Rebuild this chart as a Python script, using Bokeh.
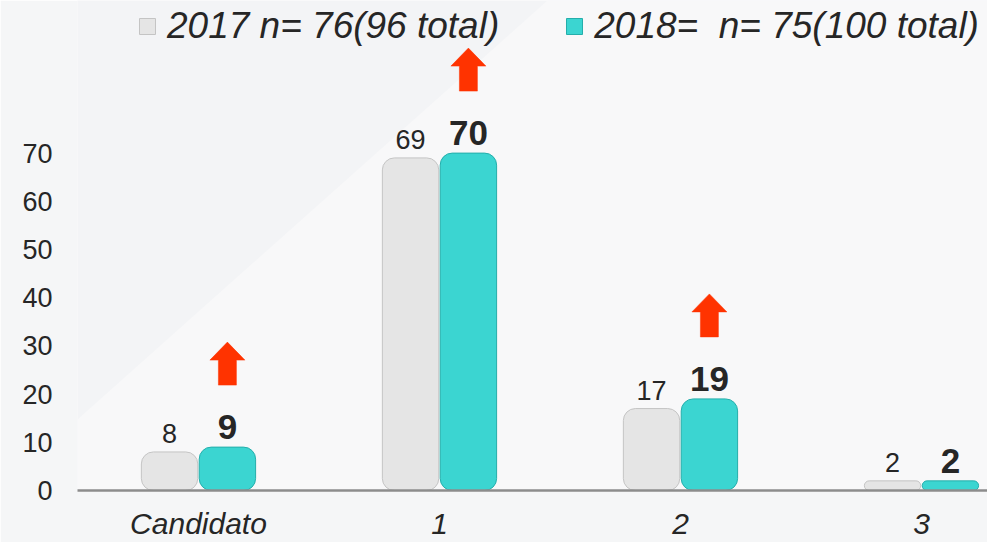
from bokeh.plotting import figure
from bokeh.models import FixedTicker, Range1d, Legend, LegendItem, ColumnDataSource
from bokeh.core.properties import value
from bokeh.embed import file_html
from bokeh.resources import INLINE

# ---- data ----
categories = ["Candidato", "1", "2", "3"]
values_2017 = [8, 69, 17, 2]
values_2018 = [9, 70, 19, 2]
label_2017 = "2017 n= 76(96 total)"
label_2018 = "2018=  n= 75(100 total)"
y_ticks = [0, 10, 20, 30, 40, 50, 60, 70]

# ---- layout constants ----
W, H = 987, 542
BORDER_L, BORDER_B = 77, 52
FRAME_W = W - BORDER_L
FRAME_H = H - BORDER_B
X_START = -0.502
X_END = X_START + FRAME_W / 241.0
Y_START, Y_END = 0, FRAME_H / 4.82
PX_X = (X_END - X_START) / FRAME_W
PX_Y = (Y_END - Y_START) / FRAME_H

FONT = "Liberation Sans"
TXT = "#262626"
C17, C17_LINE = "#e5e5e5", "#c4c4c4"
C18, C18_LINE = "#3bd5d1", "#25aeab"
ARROW = "#ff3300"
BG = "#f3f4f6"
BG_LIGHT = "#f8f8f9"
BORDER_BG = "#f5f6f7"

p = figure(width=W, height=H, output_backend="svg", toolbar_location=None,
           x_range=Range1d(X_START, X_END), y_range=Range1d(Y_START, Y_END),
           min_border_left=BORDER_L, min_border_right=0, min_border_top=0,
           min_border_bottom=BORDER_B)
p.background_fill_color = BG
p.border_fill_color = BORDER_BG
p.outline_line_color = None
p.grid.visible = False

# subtle lighter diagonal sheen of the slide background (screen px -> data)
def sx(px):
    return X_START + (px - BORDER_L) * PX_X

def sy(py):
    return (FRAME_H - py) * PX_Y

p.patch([sx(77), sx(547), sx(W), sx(W), sx(77)],
        [sy(419), sy(0), sy(0), sy(FRAME_H), sy(FRAME_H)],
        fill_color=BG_LIGHT, line_color=None, level="underlay")

idx = list(range(len(categories)))
OFF, BW = 0.12, 0.234
x17 = [i - OFF for i in idx]
x18 = [i + OFF for i in idx]

src17 = ColumnDataSource(dict(x=x17, top=values_2017))
src18 = ColumnDataSource(dict(x=x18, top=values_2018))

r17 = p.vbar(x="x", top="top", bottom=0, width=BW, source=src17, fill_color=C17,
             line_color=C17_LINE, line_width=1, border_radius=12)
r18 = p.vbar(x="x", top="top", bottom=0, width=BW, source=src18, fill_color=C18,
             line_color=C18_LINE, line_width=1, border_radius=12)

# value labels
src17l = ColumnDataSource(dict(x=x17, y=[v + 18 * PX_Y for v in values_2017],
                               lab=[str(v) for v in values_2017]))
src18l = ColumnDataSource(dict(x=x18, y=[v + 20 * PX_Y for v in values_2018],
                               lab=[str(v) for v in values_2018]))
p.text(x="x", y="y", text="lab", source=src17l, text_font=value(FONT),
       text_font_size="27px", text_color=TXT, text_align="center",
       text_baseline="alphabetic")
p.text(x="x", y="y", text="lab", source=src18l, text_font=value(FONT),
       text_font_size="35px", text_font_style="bold", text_color=TXT,
       text_align="center", text_baseline="alphabetic")

# increase arrows (where 2018 > 2017)
xs, ys = [], []
for i in idx:
    if values_2018[i] > values_2017[i]:
        cx, t = x18[i], values_2018[i]
        hw, sw = 17.5 * PX_X, 9 * PX_X
        y_tip = t + 105 * PX_Y
        y_head = t + 87 * PX_Y
        y_bot = t + 62 * PX_Y
        xs.append([cx, cx + hw, cx + sw, cx + sw, cx - sw, cx - sw, cx - hw])
        ys.append([y_tip, y_head, y_head, y_bot, y_bot, y_head, y_head])
p.patches(xs, ys, fill_color=ARROW, line_color=ARROW, line_width=0.5)

# axes
p.xaxis.ticker = FixedTicker(ticks=idx)
p.xaxis.major_label_overrides = {i: c for i, c in zip(idx, categories)}
p.xaxis.axis_line_color = "#8c8c8c"
p.xaxis.axis_line_width = 2.5
p.xaxis.major_tick_line_color = None
p.xaxis.minor_tick_line_color = None
p.xaxis.major_tick_out = 0
p.xaxis.major_tick_in = 0
p.xaxis.major_label_standoff = 16
p.xaxis.major_label_text_font = FONT
p.xaxis.major_label_text_font_size = "30px"
p.xaxis.major_label_text_font_style = "italic"
p.xaxis.major_label_text_color = TXT

p.yaxis.ticker = FixedTicker(ticks=y_ticks)
p.yaxis.axis_line_color = None
p.yaxis.major_tick_line_color = None
p.yaxis.minor_tick_line_color = None
p.yaxis.major_tick_out = 0
p.yaxis.major_tick_in = 0
p.yaxis.major_label_standoff = 25
p.yaxis.major_label_text_font = FONT
p.yaxis.major_label_text_font_size = "27px"
p.yaxis.major_label_text_color = TXT

legend = Legend(items=[LegendItem(label=label_2017, renderers=[r17]),
                       LegendItem(label=label_2018, renderers=[r18])],
                orientation="horizontal", location=(60, 443),
                glyph_width=20, glyph_height=20, label_standoff=10, spacing=65,
                padding=0, margin=0, border_line_color=None,
                background_fill_alpha=0, label_text_font=FONT,
                label_text_font_size="37px", label_text_font_style="italic",
                label_text_color=TXT)
p.add_layout(legend, "center")

open("out.html", "w").write(file_html(p, INLINE))
